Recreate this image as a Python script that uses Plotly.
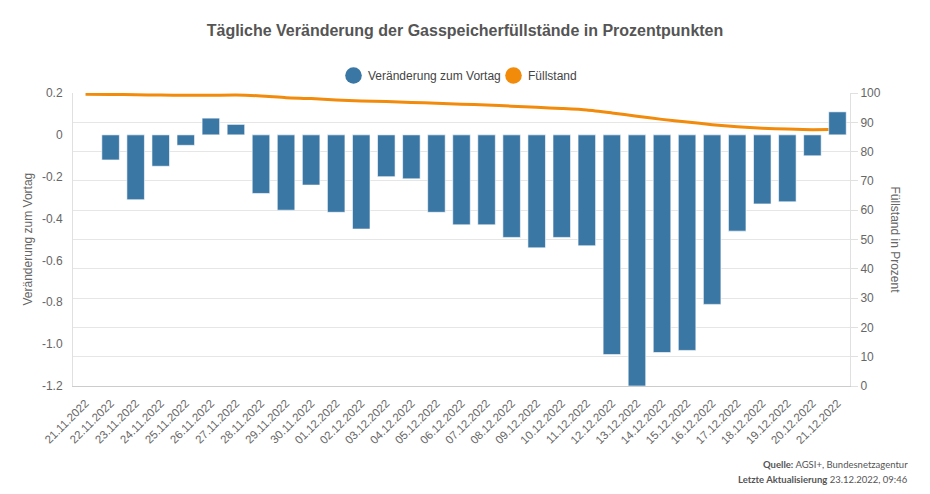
import plotly.graph_objects as go

dates = ["21.11.2022", "22.11.2022", "23.11.2022", "24.11.2022", "25.11.2022", "26.11.2022",
         "27.11.2022", "28.11.2022", "29.11.2022", "30.11.2022", "01.12.2022", "02.12.2022",
         "03.12.2022", "04.12.2022", "05.12.2022", "06.12.2022", "07.12.2022", "08.12.2022",
         "09.12.2022", "10.12.2022", "11.12.2022", "12.12.2022", "13.12.2022", "14.12.2022",
         "15.12.2022", "16.12.2022", "17.12.2022", "18.12.2022", "19.12.2022", "20.12.2022",
         "21.12.2022"]

veraenderung = [None, -0.12, -0.31, -0.15, -0.05, 0.08, 0.05, -0.28, -0.36, -0.24, -0.37,
                -0.45, -0.20, -0.21, -0.37, -0.43, -0.43, -0.49, -0.54, -0.49, -0.53,
                -1.05, -1.20, -1.04, -1.03, -0.81, -0.46, -0.33, -0.32, -0.10, 0.11]

fuellstand = [99.6, 99.5, 99.4, 99.3, 99.2, 99.2, 99.3, 99.0, 98.4, 98.1, 97.6, 97.3, 97.1,
              96.8, 96.5, 96.2, 95.9, 95.5, 95.1, 94.7, 94.2, 93.2, 92.1, 91.0, 90.1, 89.2,
              88.5, 88.0, 87.7, 87.5, 87.6]

left_tickvals = [0.2, 0, -0.2, -0.4, -0.6, -0.8, -1.0, -1.2]
left_ticktext = ["0.2", "0", "-0.2", "-0.4", "-0.6", "-0.8", "-1.0", "-1.2"]

series_names = ["Veränderung zum Vortag", "Füllstand"]

BLUE = "#3b77a5"
ORANGE = "#f28a0a"
FONT = "Liberation Sans, Arial, sans-serif"

# plot area geometry (pixels)
PL, PR, PT, PB = 73, 850, 93, 386
PW, PH = PR - PL, PB - PT


def px(xp):
    return (xp - PL) / PW


def py(yp):
    return (PB - yp) / PH


fig = go.Figure()

# line on base (right) axis -> drawn below bars on overlay axis
fig.add_trace(go.Scatter(
    x=dates, y=fuellstand, mode="lines", name=series_names[1],
    line=dict(color=ORANGE, width=3, shape="spline", smoothing=0.6),
    yaxis="y", showlegend=False,
))
fig.add_trace(go.Bar(
    x=dates, y=veraenderung, name=series_names[0],
    marker=dict(color=BLUE, line=dict(color="rgba(255,255,255,0.6)", width=1)),
    width=0.7, yaxis="y2", showlegend=False,
))

# manual legend: circle symbols + labels
legend_items = [(353.5, 366, BLUE, series_names[0]), (513.5, 526, ORANGE, series_names[1])]
shapes = []
annotations = []
LEG_Y = 75.5
for cx, tx, col, name in legend_items:
    shapes.append(dict(type="circle", xref="paper", yref="paper",
                       xsizemode="pixel", ysizemode="pixel",
                       xanchor=px(cx), yanchor=py(LEG_Y),
                       x0=-8.3, x1=8.3, y0=-8.3, y1=8.3,
                       fillcolor=col, line=dict(width=0)))
    annotations.append(dict(text=name, xref="paper", yref="paper", x=px(tx), y=py(LEG_Y),
                            xanchor="left", yanchor="middle", showarrow=False,
                            font=dict(family=FONT, size=12, color="#444444")))

annotations += [
    dict(text="Veränderung zum Vortag", xref="paper", yref="paper",
         x=px(27), y=0.5, textangle=-90, showarrow=False,
         xanchor="center", yanchor="middle",
         font=dict(family=FONT, size=12, color="#666666")),
    dict(text="Füllstand in Prozent", xref="paper", yref="paper",
         x=px(895), y=0.5, textangle=90, showarrow=False,
         xanchor="center", yanchor="middle",
         font=dict(family=FONT, size=12, color="#666666")),
    dict(text="<b>Quelle:</b> AGSI+, Bundesnetzagentur", xref="paper", yref="paper",
         x=px(910), y=py(464), showarrow=False,
         xanchor="right", yanchor="middle",
         font=dict(family="Lato, sans-serif", size=9.5, color="#555555")),
    dict(text="<b>Letzte Aktualisierung</b> 23.12.2022, 09:46", xref="paper", yref="paper",
         x=px(910), y=py(479.5), showarrow=False,
         xanchor="right", yanchor="middle",
         font=dict(family="Lato, sans-serif", size=9.5, color="#555555")),
]

fig.update_layout(
    width=930, height=494,
    margin=dict(l=PL, r=930 - PR, t=PT, b=494 - PB, pad=0),
    paper_bgcolor="white", plot_bgcolor="white",
    font=dict(family=FONT, color="#666666", size=12),
    title=dict(text="<b>Tägliche Veränderung der Gasspeicherfüllstände in Prozentpunkten</b>",
               x=0.5, xanchor="center", y=1 - 30 / 494, yanchor="middle",
               font=dict(family=FONT, size=16, color="#555555")),
    showlegend=False,
    xaxis=dict(type="category", categoryorder="array", categoryarray=dates,
               tickangle=-45, tickfont=dict(size=11.5, color="#666666"),
               ticklabelstandoff=5,
               showline=True, linecolor="#cccccc", linewidth=1, ticks="",
               showgrid=False, zeroline=False, fixedrange=True),
    yaxis=dict(side="right", range=[0, 100], dtick=10, tick0=0,
               showgrid=True, gridcolor="#e6e6e6", gridwidth=1,
               showline=True, linecolor="#e0e0e0", linewidth=1,
               ticks="outside", ticklen=7, tickcolor="#e0e0e0",
               tickfont=dict(size=12, color="#666666"), zeroline=False),
    yaxis2=dict(overlaying="y", side="left", range=[-1.2, 0.2],
                tickmode="array", tickvals=left_tickvals, ticktext=left_ticktext,
                showgrid=False, zeroline=False, showline=True, linecolor="#e0e0e0",
                linewidth=1, ticks="", ticklabelstandoff=7,
                tickfont=dict(size=12, color="#666666")),
    shapes=shapes,
    annotations=annotations,
)

fig.write_html("out.html")
